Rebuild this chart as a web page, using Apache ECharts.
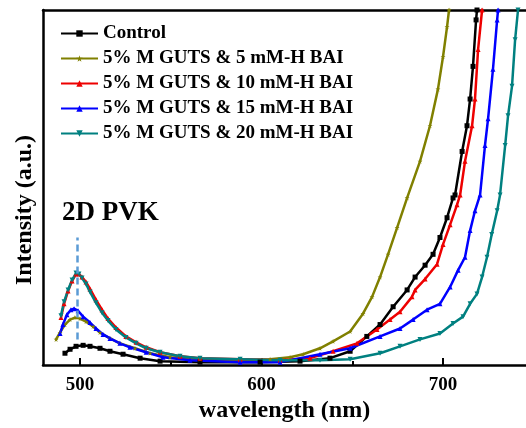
<!DOCTYPE html>
<html>
<head>
<meta charset="utf-8">
<script src="https://cdn.jsdelivr.net/npm/echarts@6/dist/echarts.min.js"></script>
<style>
html, body { margin: 0; padding: 0; background: #fff; }
#chartDom { width: 526px; height: 428px; }
</style>
</head>
<body>
<div id="chartDom"></div>
<script>
// [wavelength (nm), intensity (a.u.)]
const control = [
  [491.7, 12], [494.5, 16], [497.8, 19], [501.7, 20], [505.5, 19], [511.0, 17],
  [516.5, 14], [523.7, 11], [533.1, 7], [544.1, 4], [566.1, 3], [599.2, 3],
  [621.2, 4], [637.7, 7], [648.8, 14], [658.0, 29], [665.3, 41], [672.5, 59],
  [680.2, 76], [684.6, 89], [690.1, 101], [694.5, 112], [698.3, 129], [702.2, 149],
  [705.5, 169], [706.6, 172], [710.5, 216], [713.2, 242], [714.9, 269], [716.5, 302],
  [718.2, 349], [718.7, 359], [719.3, 369]
];
const bai5 = [
  [486.8, 26], [489.0, 33], [491.7, 41], [494.5, 46], [497.2, 48], [500.0, 47],
  [503.3, 44], [507.2, 39], [511.0, 33], [516.5, 27], [522.0, 22], [530.3, 17],
  [538.6, 12], [549.6, 8], [566.1, 6], [588.2, 5], [604.7, 6], [615.7, 8],
  [622.9, 11], [632.2, 17], [639.4, 24], [648.8, 34], [655.9, 52], [660.9, 69],
  [665.3, 89], [669.7, 112], [674.7, 139], [680.2, 169], [687.3, 206], [692.8, 242],
  [697.2, 279], [700.0, 312], [702.2, 342], [703.3, 359], [703.9, 369]
];
const bai10 = [
  [489.5, 48], [491.2, 62], [493.4, 75], [495.6, 85], [497.8, 92], [499.4, 92],
  [501.1, 89], [503.3, 84], [505.5, 77], [508.8, 66], [512.1, 56], [515.4, 47],
  [519.8, 38], [525.3, 29], [530.9, 23], [536.4, 18], [544.1, 13], [555.1, 9],
  [566.1, 7], [588.2, 6], [610.2, 5], [626.7, 7], [639.4, 14], [652.6, 22],
  [663.6, 36], [670.8, 46], [676.3, 54], [682.9, 69], [684.6, 76], [690.1, 87],
  [696.7, 102], [700.0, 122], [703.9, 142], [707.7, 162], [709.4, 172], [712.1, 206],
  [716.0, 242], [717.6, 269], [719.3, 319], [721.5, 359], [722.0, 369]
];
const bai15 = [
  [489.0, 32], [490.6, 41], [492.8, 51], [495.0, 56], [496.7, 57], [498.9, 55],
  [501.7, 49], [505.5, 43], [508.8, 37], [512.7, 31], [516.5, 27], [522.0, 22],
  [527.5, 18], [536.4, 13], [545.7, 8], [560.6, 5], [588.2, 3], [610.2, 3],
  [632.2, 11], [648.8, 17], [665.3, 29], [676.3, 37], [683.5, 46], [691.2, 56],
  [698.3, 62], [703.9, 79], [708.3, 96], [712.1, 109], [714.9, 136], [717.6, 156],
  [720.4, 172], [723.1, 222], [724.8, 249], [727.5, 299], [729.8, 349], [730.3, 359],
  [730.9, 369]
];
const bai20 = [
  [489.5, 50], [491.2, 64], [493.4, 76], [495.6, 86], [497.8, 93], [499.4, 92],
  [501.1, 88], [503.3, 82], [505.5, 74], [508.8, 63], [512.1, 53], [515.4, 45],
  [519.8, 36], [525.3, 28], [530.9, 22], [536.4, 17], [544.1, 13], [555.1, 9],
  [566.1, 7], [588.2, 6], [610.2, 5], [632.2, 5], [648.8, 6], [665.3, 12],
  [676.3, 19], [687.3, 26], [698.3, 32], [705.5, 42], [711.0, 49], [714.9, 62],
  [718.7, 72], [721.5, 89], [724.2, 109], [726.8, 132], [729.8, 156], [731.4, 172],
  [734.2, 222], [735.8, 252], [738.0, 282], [739.7, 329], [741.3, 359], [742.0, 369]
];
const names = [
  "Control",
  "5% M GUTS & 5 mM-H BAI",
  "5% M GUTS & 10 mM-H BAI",
  "5% M GUTS & 15 mM-H BAI",
  "5% M GUTS & 20 mM-H BAI"
];
const xTicks = [500, 600, 700];
const xMinorTicks = [550, 650];
const peakLine = [[498.7, 26], [498.7, 129]]; // dashed marker of the 2D PVK peak

const font = "'Liberation Serif', 'Times New Roman', serif";
const xMin = 479.6, xMax = 745.7;
const star = "path://M50,0 L61,35 L98,35 L68,57 L79,91 L50,70 L21,91 L32,57 L2,35 L39,35 Z";

function line(name, data, color, symbol, rotate) {
  return {
    name: name,
    type: "line",
    data: data,
    symbol: symbol,
    symbolSize: 5,
    symbolRotate: rotate || 0,
    lineStyle: { color: color, width: 2.5 },
    itemStyle: { color: color },
    clip: true
  };
}

let myChart = echarts.init(document.getElementById("chartDom"));
let series = [
  line(names[0], control, "#000000", "rect"),
  line(names[1], bai5, "#808000", star),
  line(names[2], bai10, "#ee0000", "triangle"),
  line(names[3], bai15, "#0000ff", "triangle"),
  line(names[4], bai20, "#008080", "triangle", 180)
];
// 2D PVK peak position
series[4].markLine = {
  silent: true,
  symbol: "none",
  label: { show: false },
  lineStyle: { color: "#5b9bd5", width: 2.5, type: [7, 4] },
  data: [[{ coord: peakLine[0] }, { coord: peakLine[1] }]]
};

myChart.setOption({
  animation: false,
  grid: { left: 43, right: 0, top: 10, bottom: 59 },
  legend: {
    orient: "vertical",
    left: 55,
    top: 19,
    itemWidth: 37,
    itemHeight: 8,
    itemGap: 6,
    data: names,
    textStyle: { fontFamily: font, fontWeight: "bold", fontSize: 19, color: "#000", lineHeight: 18 }
  },
  xAxis: [
    {
      type: "value",
      min: xMin,
      max: xMax,
      name: "wavelength (nm)",
      nameLocation: "middle",
      nameGap: 29,
      nameTextStyle: { fontFamily: font, fontWeight: "bold", fontSize: 24, color: "#000" },
      axisLine: { lineStyle: { color: "#000", width: 2.5 } },
      axisTick: { inside: true, length: 7, customValues: xTicks, lineStyle: { color: "#000", width: 2 } },
      axisLabel: { customValues: xTicks, margin: 10, fontFamily: font, fontWeight: "bold", fontSize: 19, color: "#000" },
      splitLine: { show: false }
    },
    {
      type: "value",
      min: xMin,
      max: xMax,
      position: "bottom",
      axisLine: { show: false },
      axisTick: { inside: true, length: 4, customValues: xMinorTicks, lineStyle: { color: "#000", width: 2 } },
      axisLabel: { show: false },
      splitLine: { show: false }
    },
    {
      type: "value",
      min: xMin,
      max: xMax,
      position: "top",
      axisLine: { lineStyle: { color: "#000", width: 2.5 } },
      axisTick: { show: false },
      axisLabel: { show: false },
      splitLine: { show: false }
    }
  ],
  yAxis: {
    type: "value",
    min: 0,
    max: 359,
    axisLine: { show: true, lineStyle: { color: "#000", width: 2.5 } },
    axisTick: { show: false },
    axisLabel: { show: false },
    splitLine: { show: false }
  },
  graphic: [
    {
      type: "text",
      x: 25,
      y: 210,
      rotation: Math.PI / 2,
      style: { text: "Intensity (a.u.)", fontFamily: font, fontWeight: "bold", fontSize: 24, fill: "#000", textAlign: "center", textVerticalAlign: "middle" }
    },
    {
      type: "text",
      x: 62,
      y: 213,
      style: { text: "2D PVK", fontFamily: font, fontWeight: "bold", fontSize: 27, fill: "#000", textAlign: "left", textVerticalAlign: "middle" }
    }
  ],
  series: series
});
</script>
</body>
</html>
